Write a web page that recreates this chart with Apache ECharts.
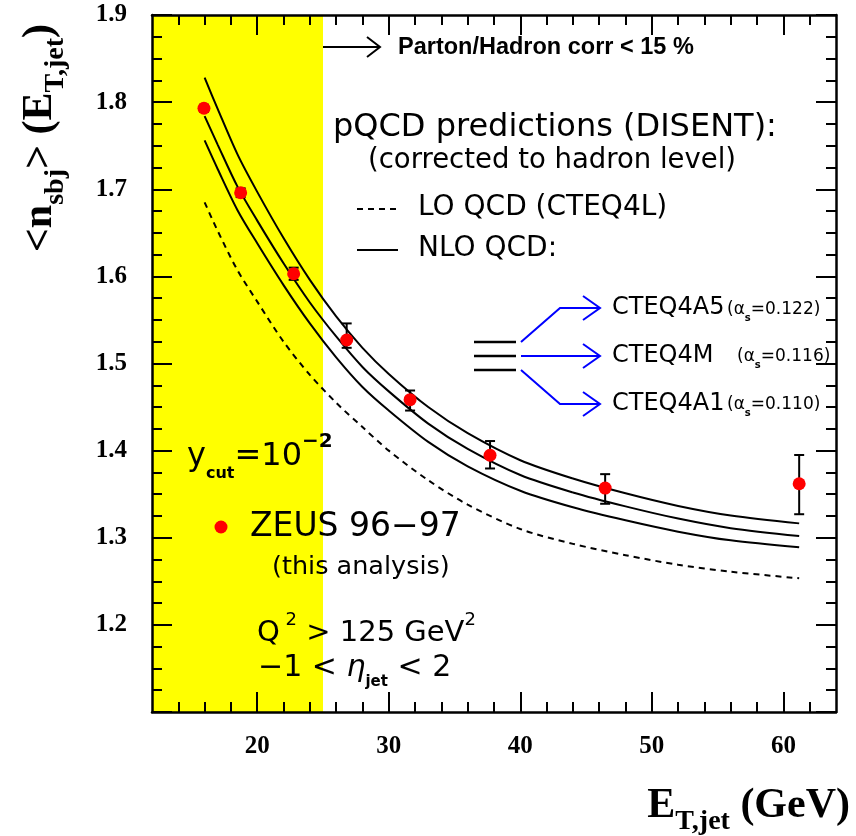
<!DOCTYPE html>
<html>
<head>
<meta charset="utf-8">
<title>Mean subjet multiplicity vs E_T,jet</title>
<script src="https://cdn.jsdelivr.net/npm/echarts@6/dist/echarts.min.js"></script>
<style>
  html, body { margin: 0; padding: 0; background: #fff; }
  #chart { width: 856px; height: 836px; }
</style>
</head>
<body>
<div id="chart"></div>
<script>
// ZEUS 96-97 points: E_T,jet (GeV), <n_sbj>, error bar ends
var etJet   = [15.95, 18.74, 22.77, 26.8, 31.62, 37.7, 46.45, 61.2];
var nSbj    = [1.793, 1.696, 1.603, 1.527, 1.4585, 1.3947, 1.357, 1.362];
var errLow  = [1.789, 1.691, 1.596, 1.518, 1.446, 1.3795, 1.339, 1.327];
var errHigh = [1.797, 1.701, 1.610, 1.546, 1.469, 1.411, 1.373, 1.395];

// DISENT predictions
var curveEt  = [16, 17, 18.5, 20, 22, 24, 26, 28, 30, 33, 36, 40, 44, 48, 52, 56, 61.2];
var nloA5    = [1.828, 1.792, 1.740, 1.697, 1.644, 1.596, 1.554, 1.518, 1.488, 1.450, 1.420, 1.389, 1.368, 1.351, 1.3365, 1.3255, 1.3165];
var nloM     = [1.784, 1.751, 1.703, 1.664, 1.615, 1.570, 1.531, 1.496, 1.468, 1.431, 1.402, 1.372, 1.352, 1.336, 1.322, 1.311, 1.302];
var nloA1    = [1.756, 1.723, 1.676, 1.638, 1.590, 1.546, 1.507, 1.473, 1.446, 1.410, 1.382, 1.354, 1.335, 1.320, 1.307, 1.297, 1.289];
var loCteq4L = [1.685, 1.652, 1.607, 1.571, 1.525, 1.487, 1.455, 1.427, 1.400, 1.366, 1.338, 1.310, 1.293, 1.280, 1.269, 1.261, 1.2535];

var xTicks = [20, 30, 40, 50, 60];
var xMinorTicks = [14, 16, 18, 22, 24, 26, 28, 32, 34, 36, 38, 42, 44, 46, 48, 52, 54, 56, 58, 62];
var hadronCorrEt = 25;   // parton/hadron corr < 15% above this

function pairs(xs, ys) {
    return xs.map(function (x, i) { return [x, ys[i]]; });
}

var chart = echarts.init(document.getElementById('chart'));

var serif = 'Liberation Serif';
var sans = 'DejaVu Sans';
var blue = '#0000ff';

function xAxisOf(pos, ticks, len, withLine, withLabel) {
    return {
        type: 'value', position: pos, min: 12, max: 64, z: 10,
        splitLine: { show: false },
        axisLine: { show: withLine, onZero: false, lineStyle: { color: '#000', width: 2.5 } },
        axisTick: { inside: true, length: len, customValues: ticks, lineStyle: { color: '#000', width: 2 } },
        axisLabel: {
            show: withLabel, customValues: ticks, margin: 22,
            fontFamily: serif, fontWeight: 'bold', fontSize: 25, color: '#000'
        }
    };
}

function yAxisOf(pos, withLabel) {
    return {
        type: 'value', position: pos, min: 1.1, max: 1.9, interval: 0.1, z: 10,
        splitLine: { show: false },
        axisLine: { show: true, onZero: false, lineStyle: { color: '#000', width: 2.5 } },
        axisTick: { inside: true, length: 20, lineStyle: { color: '#000', width: 2 } },
        minorTick: { show: true, splitNumber: 4, length: 10, lineStyle: { color: '#000', width: 2 } },
        axisLabel: {
            show: withLabel, margin: 25, showMinLabel: false,
            formatter: function (v) { return v.toFixed(1); },
            fontFamily: serif, fontWeight: 'bold', fontSize: 25, color: '#000'
        }
    };
}

function curve(name, ys, dashed) {
    return {
        name: name, type: 'line', data: pairs(curveEt, ys),
        showSymbol: false, smooth: 0.3, z: 3,
        lineStyle: { color: '#000', width: 2, type: dashed ? [6, 5] : 'solid' }
    };
}

function txt(x, y, text, size, extra) {
    var st = {
        text: text, fontFamily: sans, fontSize: size, fill: '#000',
        align: 'left', verticalAlign: 'middle'
    };
    for (var k in extra) st[k] = extra[k];
    return { type: 'text', x: x, y: y, z: 20, style: st };
}

function seg(points, color, width, dash) {
    return {
        type: 'polyline', z: 20,
        shape: { points: points },
        style: { stroke: color, lineWidth: width, fill: null, lineDash: dash || null }
    };
}

function alphaText(x, y, val) {
    return txt(x, y, '{m|(α}{s|s}{m|=' + val + ')}', 17, {
        rich: {
            m: { fontFamily: sans, fontSize: 17, lineHeight: 26, fill: '#000' },
            s: { fontFamily: sans, fontSize: 10, fontWeight: 'bold', lineHeight: 10, verticalAlign: 'bottom', fill: '#000' }
        }
    });
}

option = {
    animation: false,
    backgroundColor: '#fff',
    grid: { left: 152, right: 20, top: 15, bottom: 124 },
    xAxis: [
        xAxisOf('bottom', xTicks, 20, true, true),
        xAxisOf('bottom', xMinorTicks, 10, false, false),
        xAxisOf('top', xTicks, 20, true, false),
        xAxisOf('top', xMinorTicks, 10, false, false)
    ],
    yAxis: [yAxisOf('left', true), yAxisOf('right', false)],
    series: [
        {
            type: 'line', data: [], z: 1, silent: true,
            markArea: {
                silent: true,
                itemStyle: { color: '#ffff00' },
                data: [[{ xAxis: 12 }, { xAxis: hadronCorrEt }]]
            }
        },
        curve('CTEQ4A5', nloA5, false),
        curve('CTEQ4M', nloM, false),
        curve('CTEQ4A1', nloA1, false),
        curve('LO CTEQ4L', loCteq4L, true),
        {
            type: 'custom', z: 4,
            data: etJet.map(function (x, i) { return [x, errLow[i], errHigh[i]]; }),
            encode: { x: 0, y: [1, 2] },
            renderItem: function (params, api) {
                var lo = api.coord([api.value(0), api.value(1)]);
                var hi = api.coord([api.value(0), api.value(2)]);
                var cap = 5;
                var st = { stroke: '#000', lineWidth: 2 };
                return {
                    type: 'group', children: [
                        { type: 'line', shape: { x1: lo[0], y1: lo[1], x2: hi[0], y2: hi[1] }, style: st },
                        { type: 'line', shape: { x1: lo[0] - cap, y1: lo[1], x2: lo[0] + cap, y2: lo[1] }, style: st },
                        { type: 'line', shape: { x1: hi[0] - cap, y1: hi[1], x2: hi[0] + cap, y2: hi[1] }, style: st }
                    ]
                };
            }
        },
        {
            name: 'ZEUS 96-97', type: 'scatter', z: 5,
            data: pairs(etJet, nSbj),
            symbol: 'circle', symbolSize: 13,
            itemStyle: { color: '#ff0000', opacity: 1 }
        }
    ],
    graphic: [
        // axis titles
        {
            type: 'text', x: 40, y: 138, rotation: Math.PI / 2, z: 20,
            style: {
                text: '{m|<n}{s|sbj}{m|> (E}{s|T,jet}{m|)}',
                align: 'center', verticalAlign: 'middle',
                rich: {
                    m: { fontFamily: serif, fontWeight: 'bold', fontSize: 42, lineHeight: 60, fill: '#000' },
                    s: { fontFamily: serif, fontWeight: 'bold', fontSize: 28, lineHeight: 28, verticalAlign: 'bottom', fill: '#000' }
                }
            }
        },
        {
            type: 'text', x: 850, y: 806, z: 20,
            style: {
                text: '{m|E}{s|T,jet}{m| (GeV)}',
                align: 'right', verticalAlign: 'middle',
                rich: {
                    m: { fontFamily: serif, fontWeight: 'bold', fontSize: 42, lineHeight: 60, fill: '#000' },
                    s: { fontFamily: serif, fontWeight: 'bold', fontSize: 28, lineHeight: 28, verticalAlign: 'bottom', fill: '#000' }
                }
            }
        },
        // parton/hadron arrow
        seg([[323, 47], [380, 47]], '#000', 2),
        seg([[367, 37], [380, 47], [367, 57]], '#000', 2),
        txt(398, 48, 'Parton/Hadron corr < 15 %', 23.5, { fontFamily: 'Liberation Sans', fontWeight: 'bold' }),
        // pQCD legend
        txt(333, 128, 'pQCD predictions (DISENT):', 32),
        txt(368, 161, '(corrected to hadron level)', 27.5),
        seg([[357, 209], [398, 209]], '#000', 2, [6, 5]),
        txt(418, 208, 'LO QCD (CTEQ4L)', 28),
        seg([[357, 250], [398, 250]], '#000', 2),
        txt(418, 249, 'NLO QCD:', 28),
        // three curves -> pdf sets
        seg([[474, 342], [516, 342]], '#000', 2.5),
        seg([[474, 356], [516, 356]], '#000', 2.5),
        seg([[474, 370], [516, 370]], '#000', 2.5),
        seg([[521, 342], [560, 308], [600, 308]], blue, 2),
        seg([[583, 296], [600, 308], [583, 320]], blue, 2),
        seg([[521, 356], [600, 356]], blue, 2),
        seg([[583, 344], [600, 356], [583, 368]], blue, 2),
        seg([[521, 370], [560, 404], [600, 404]], blue, 2),
        seg([[583, 392], [600, 404], [583, 416]], blue, 2),
        txt(612, 308, 'CTEQ4A5', 24),
        alphaText(727, 310, '0.122'),
        txt(612, 356, 'CTEQ4M', 24),
        alphaText(737, 357, '0.116'),
        txt(612, 404, 'CTEQ4A1', 24),
        alphaText(727, 405, '0.110'),
        // cuts
        txt(187, 457, '{m|y}{sub|cut}{m|=10}{sup|−2}', 32, {
            rich: {
                m: { fontFamily: sans, fontSize: 32, lineHeight: 50, fill: '#000' },
                sub: { fontFamily: sans, fontSize: 16, fontWeight: 'bold', lineHeight: 16, verticalAlign: 'bottom', fill: '#000' },
                sup: { fontFamily: sans, fontSize: 20, fontWeight: 'bold', lineHeight: 20, verticalAlign: 'top', fill: '#000' }
            }
        }),
        { type: 'circle', z: 20, shape: { cx: 221, cy: 527, r: 6.5 }, style: { fill: '#ff0000' } },
        txt(250, 527, 'ZEUS 96−97', 33),
        txt(272, 567, '(this analysis)', 25.5),
        txt(257, 633, '{m|Q}{sup| 2}{m| > 125 GeV}{sup|2}', 29, {
            rich: {
                m: { fontFamily: sans, fontSize: 29, lineHeight: 44, fill: '#000' },
                sup: { fontFamily: sans, fontSize: 18, lineHeight: 18, verticalAlign: 'top', fill: '#000' }
            }
        }),
        txt(258, 668, '{m|−1 < }{it|η}{sub|jet}{m| < 2}', 30, {
            rich: {
                m: { fontFamily: sans, fontSize: 30, lineHeight: 44, fill: '#000' },
                it: { fontFamily: sans, fontSize: 30, fontStyle: 'italic', lineHeight: 44, fill: '#000' },
                sub: { fontFamily: sans, fontSize: 15, fontWeight: 'bold', lineHeight: 15, verticalAlign: 'bottom', fill: '#000' }
            }
        })
    ]
};
chart.setOption(option);
</script>
</body>
</html>
